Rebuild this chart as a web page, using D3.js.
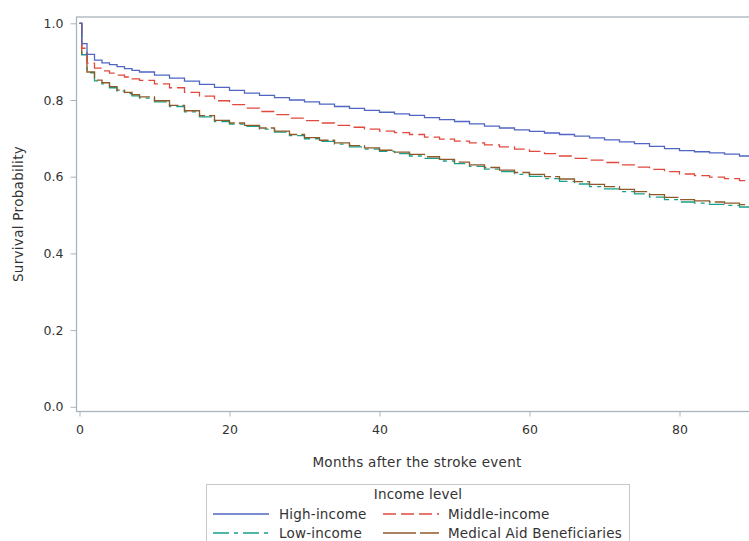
<!DOCTYPE html>
<html lang="en">
<head>
    <meta charset="UTF-8">
    <title>Survival by income level</title>
    <script src="https://d3js.org/d3.v7.min.js"></script>
    <style>
        body { margin: 0; background: #fff; }
        text { font-family: "DejaVu Sans", sans-serif; fill: #333; }
        .axis text { font-size: 12.5px; }
        .axis line { stroke: #a8b4bc; }
        .axis-label { font-size: 13.5px; letter-spacing: 0.3px; }
        .legend-text { font-size: 13.5px; letter-spacing: 0.2px; }
    </style>
</head>
<body>
    <div id="chart"></div>

    <script>
        // months after stroke (KM step times)
        const months = [0, 0.3, 1, 2, 3, 4, 5, 6, 7, 8, 10, 12, 14, 16, 18, 20, 22, 24, 26, 28, 30,
            32, 34, 36, 38, 40, 42, 44, 46, 48, 50, 52, 54, 56, 58, 60, 62, 64, 66, 68, 70,
            72, 74, 76, 78, 80, 82, 84, 86, 88, 90];

        const highIncome = [1.000, 0.947, 0.919, 0.904, 0.897, 0.892, 0.887, 0.882, 0.877, 0.873, 0.865,
            0.857, 0.849, 0.841, 0.833, 0.825, 0.818, 0.812, 0.806, 0.800, 0.795,
            0.789, 0.783, 0.778, 0.773, 0.768, 0.764, 0.760, 0.754, 0.749, 0.744,
            0.738, 0.732, 0.727, 0.722, 0.718, 0.714, 0.710, 0.706, 0.701, 0.696,
            0.691, 0.686, 0.679, 0.673, 0.668, 0.665, 0.662, 0.659, 0.654, 0.649];

        const middleIncome = [1.000, 0.935, 0.896, 0.883, 0.876, 0.870, 0.865, 0.860, 0.855, 0.851, 0.842,
            0.832, 0.820, 0.810, 0.798, 0.788, 0.779, 0.770, 0.762, 0.753, 0.746,
            0.740, 0.734, 0.729, 0.724, 0.719, 0.715, 0.710, 0.703, 0.698, 0.693,
            0.688, 0.683, 0.678, 0.672, 0.666, 0.660, 0.654, 0.648, 0.643, 0.637,
            0.631, 0.625, 0.619, 0.613, 0.607, 0.603, 0.599, 0.595, 0.590, 0.586];

        const lowIncome = [1.000, 0.918, 0.871, 0.850, 0.842, 0.832, 0.823, 0.817, 0.811, 0.805, 0.795,
            0.783, 0.769, 0.756, 0.744, 0.737, 0.731, 0.724, 0.716, 0.707, 0.699,
            0.692, 0.685, 0.678, 0.672, 0.666, 0.660, 0.654, 0.648, 0.641, 0.634,
            0.627, 0.620, 0.613, 0.606, 0.601, 0.595, 0.588, 0.581, 0.574, 0.568,
            0.561, 0.555, 0.547, 0.540, 0.534, 0.531, 0.528, 0.525, 0.521, 0.516];

        const medicalAid = [1.000, 0.920, 0.873, 0.852, 0.845, 0.835, 0.826, 0.820, 0.814, 0.808, 0.798,
            0.786, 0.772, 0.759, 0.747, 0.740, 0.734, 0.727, 0.719, 0.710, 0.702,
            0.695, 0.688, 0.681, 0.675, 0.669, 0.664, 0.658, 0.652, 0.645, 0.638,
            0.631, 0.624, 0.617, 0.611, 0.606, 0.600, 0.594, 0.587, 0.580, 0.574,
            0.567, 0.561, 0.553, 0.546, 0.540, 0.537, 0.534, 0.531, 0.527, 0.522];

        const xTicks = [0, 20, 40, 60, 80];
        const yTicks = [0.0, 0.2, 0.4, 0.6, 0.8, 1.0];

        const series = [
            { name: "High-income", values: highIncome, color: "#4f66c2", dash: null },
            { name: "Middle-income", values: middleIncome, color: "#e0493e", dash: "13,5" },
            { name: "Low-income", values: lowIncome, color: "#17a08b", dash: "16,5,4,5" },
            { name: "Medical Aid Beneficiaries", values: medicalAid, color: "#8f5a28", dash: "33,4" }
        ];

        const W = 749, H = 541;
        const frame = { left: 76.5, top: 17, right: 760, bottom: 411.5 };

        const svg = d3.select("#chart").append("svg")
            .attr("width", W)
            .attr("height", H);

        const x = d3.scaleLinear().domain([0, 90]).range([79.5, 754.5]);
        const y = d3.scaleLinear().domain([0, 1]).range([406.8, 23.3]);

        svg.append("defs").append("clipPath").attr("id", "plot-clip")
            .append("rect")
            .attr("x", frame.left).attr("y", frame.top)
            .attr("width", frame.right - frame.left)
            .attr("height", frame.bottom - frame.top);

        // frame
        svg.append("rect")
            .attr("x", frame.left).attr("y", frame.top)
            .attr("width", frame.right - frame.left)
            .attr("height", frame.bottom - frame.top)
            .attr("fill", "none")
            .attr("stroke", "#a8b4bc")
            .attr("stroke-width", 1.3);

        // axes
        const yAxis = svg.append("g")
            .attr("class", "axis")
            .attr("transform", `translate(${frame.left},0)`)
            .call(d3.axisLeft(y).tickValues(yTicks).tickFormat(d3.format(".1f")).tickSize(6).tickPadding(7));
        yAxis.select(".domain").remove();

        const xAxis = svg.append("g")
            .attr("class", "axis")
            .attr("transform", `translate(0,${frame.bottom})`)
            .call(d3.axisBottom(x).tickValues(xTicks).tickFormat(d3.format("d")).tickSize(5).tickPadding(9));
        xAxis.select(".domain").remove();

        svg.append("text")
            .attr("class", "axis-label")
            .attr("x", 417)
            .attr("y", 467)
            .attr("text-anchor", "middle")
            .text("Months after the stroke event");

        svg.append("text")
            .attr("class", "axis-label")
            .attr("transform", "rotate(-90)")
            .attr("x", -214)
            .attr("y", 23)
            .attr("text-anchor", "middle")
            .text("Survival Probability");

        // KM step curves
        const line = d3.line()
            .x(d => x(d[0]))
            .y(d => y(d[1]))
            .curve(d3.curveStepAfter);

        const plot = svg.append("g").attr("clip-path", "url(#plot-clip)");
        [series[2], series[3], series[1], series[0]].forEach(s => {
            plot.append("path")
                .datum(months.map((m, i) => [m, s.values[i]]))
                .attr("fill", "none")
                .attr("stroke", s.color)
                .attr("stroke-width", 1.3)
                .attr("stroke-dasharray", s.dash)
                .attr("d", line);
        });

        // legend
        const lg = svg.append("g");
        lg.append("rect")
            .attr("x", 206.5).attr("y", 484.5)
            .attr("width", 423).attr("height", 70)
            .attr("fill", "#fff")
            .attr("stroke", "#c8c8c8");

        lg.append("text")
            .attr("class", "legend-text")
            .attr("x", 418).attr("y", 499)
            .attr("text-anchor", "middle")
            .text("Income level");

        const slots = [
            { lx: 213, tx: 279, cy: 514 },
            { lx: 383, tx: 448, cy: 514 },
            { lx: 213, tx: 279, cy: 533 },
            { lx: 383, tx: 448, cy: 533 }
        ];
        series.forEach((s, i) => {
            const p = slots[i];
            lg.append("line")
                .attr("x1", p.lx).attr("x2", p.lx + 56)
                .attr("y1", p.cy).attr("y2", p.cy)
                .attr("stroke", s.color)
                .attr("stroke-width", 1.3)
                .attr("stroke-dasharray", s.dash);
            lg.append("text")
                .attr("class", "legend-text")
                .attr("x", p.tx).attr("y", p.cy + 5)
                .text(s.name);
        });
    </script>
</body>
</html>
